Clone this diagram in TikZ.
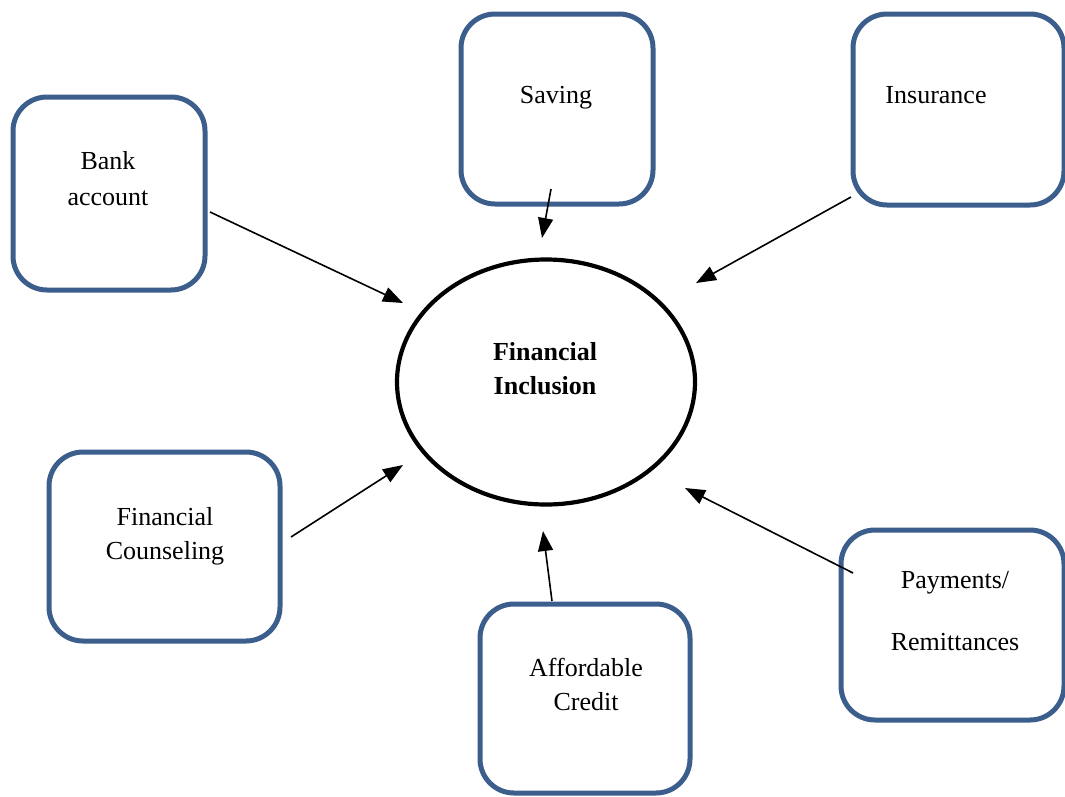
\documentclass[tikz,border=0pt]{standalone}
\usepackage{fontspec}
\setmainfont{Liberation Serif}
\usetikzlibrary{shapes.geometric,arrows.meta}
\definecolor{boxblue}{HTML}{3B5E8C}
\tikzset{
  box/.style={draw=boxblue, line width=5pt, rounded corners=34pt, fill=white,
    inner sep=0pt, outer sep=0pt},
  hub/.style={draw=black, line width=4.2pt, ellipse, inner sep=0pt, fill=white},
  word/.style={anchor=base, inner sep=0pt, font=\fontsize{26}{30}\selectfont},
  bword/.style={word, font=\fontsize{26}{30}\selectfont\bfseries},
  feed/.style={line width=1.6pt, -{Triangle[length=20pt,width=15pt]}}
}
\begin{document}
\begin{tikzpicture}[x=1pt,y=-1pt]
\useasboundingbox[fill=white] (0,0) rectangle (1065,796);
\clip (0,0) rectangle (1065,796);

% outer boxes
\node[box, minimum width=192pt, minimum height=193pt] (bank) at (109,193.5) {};
\node[box, minimum width=192pt, minimum height=190pt] (saving) at (557,109) {};
\node[box, minimum width=211pt, minimum height=191pt] (insur) at (958.5,109.5) {};
\node[box, minimum width=231pt, minimum height=189pt] (couns) at (164.5,546.5) {};
\node[box, minimum width=210pt, minimum height=189pt] (credit) at (585,698.5) {};
\node[box, minimum width=223pt, minimum height=190pt] (pay) at (952.5,625) {};

% central ellipse
\node[hub, minimum width=298pt, minimum height=245pt] (fi) at (546,382) {};

% labels
\node[word] (bank1) at (108,169) {Bank};
\node[word] (bank2) at (108,205) {account};
\node[word] (sav1) at (556,103) {Saving};
\node[word] (ins1) at (936,103) {Insurance};
\node[bword] (fi1) at (545,360) {Financial};
\node[bword] (fi2) at (545,394) {Inclusion};
\node[word] (cou1) at (165,525) {Financial};
\node[word] (cou2) at (165,559) {Counseling};
\node[word] (cre1) at (586,676) {Affordable};
\node[word] (cre2) at (586,710) {Credit};
\node[word] (pay1) at (955,588) {Payments/};
\node[word] (pay2) at (955,650) {Remittances};

% arrow end points
\coordinate (bankS) at (210,212);   \coordinate (bankT) at (403,303);
\coordinate (savS) at (551,189);    \coordinate (savT) at (542,238);
\coordinate (insS) at (851,197);    \coordinate (insT) at (696,283);
\coordinate (couS) at (291,537);    \coordinate (couT) at (403,465);
\coordinate (creS) at (552,601);    \coordinate (creT) at (543,531);
\coordinate (payS) at (853,573);    \coordinate (payT) at (685,488);

% arrows into the hub
\draw[feed] (bankS) -- (bankT);
\draw[feed] (savS) -- (savT);
\draw[feed] (insS) -- (insT);
\draw[feed] (couS) -- (couT);
\draw[feed] (creS) -- (creT);
\draw[feed] (payS) -- (payT);
\end{tikzpicture}
\end{document}
